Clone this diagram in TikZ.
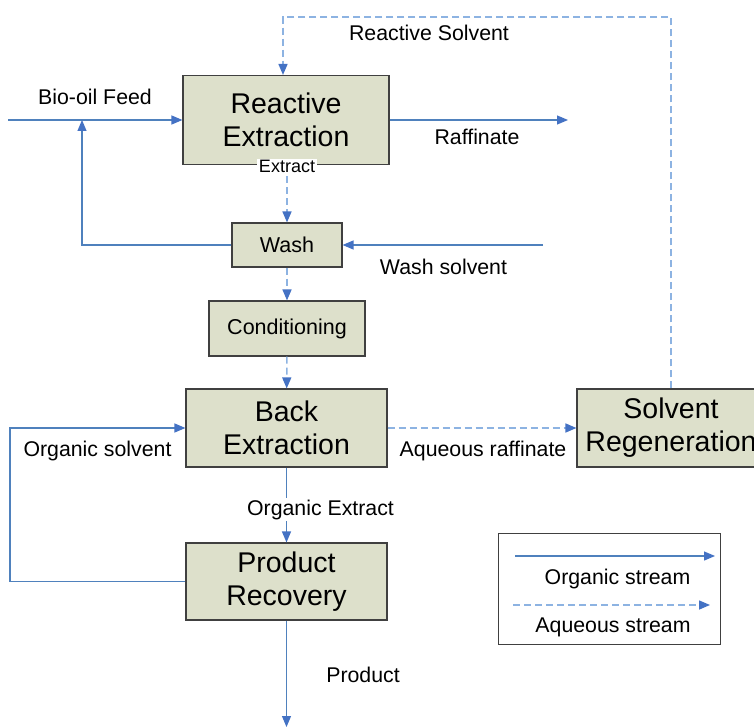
\documentclass[tikz,border=0pt]{standalone}
\usepackage{fontspec}
\setmainfont{Liberation Sans}
\usetikzlibrary{arrows.meta,positioning,calc}
\definecolor{flow}{RGB}{79,129,189}
\definecolor{tip}{RGB}{68,114,196}
\definecolor{aqua}{RGB}{141,179,226}
\definecolor{unitfill}{RGB}{221,224,203}

\begin{document}
\begin{tikzpicture}[
  x=1pt,y=-1pt,
  >={Triangle[length=11pt,width=9pt,color=tip]},
  unit/.style={draw=black!75, line width=1.1pt, fill=unitfill, inner sep=0pt, align=center, font=\fontsize{28.5}{33}\selectfont},
  smallunit/.style={unit, font=\fontsize{21.5}{26}\selectfont},
  lbl/.style={font=\fontsize{21.3}{25}\selectfont, anchor=base, inner sep=0pt},
  tag/.style={lbl, fill=white, inner sep=1.5pt},
  org/.style={->, draw=flow, line width=1.2pt},
  aq/.style={->, draw=aqua, line width=1.5pt, dash pattern=on 7pt off 4pt},
  legendbox/.style={draw=black!75, line width=0.9pt, minimum width=222, minimum height=111, inner sep=0pt}
]
\useasboundingbox (0,0) rectangle (754,727);

% Process units
\node[unit, minimum width=206, minimum height=89] (rext) at (286,120) {Reactive\\Extraction};
\node[smallunit, minimum width=110, minimum height=44] (wash) at (287,245) {Wash};
\node[smallunit, minimum width=156, minimum height=55] (cond) at (287,328.5) {Conditioning};
\node[unit, minimum width=201, minimum height=78] (bext) at (286.5,428) {Back\\Extraction};
\node[unit, minimum width=201, minimum height=77] (prec) at (286.5,581.5) {Product\\Recovery};
\node[unit, minimum width=188, minimum height=78] (sreg) at (671,428) {Solvent\\Regeneration};

% Free ends of streams
\coordinate (feedin) at (8,120);
\coordinate (mix) at (82,120);
\coordinate (raffout) at (568,120);
\coordinate (wsin) at (543,245);
\coordinate (rsturn) at (283,17);
\coordinate (osleft) at (10,581.5);
\coordinate (prodout) at (287,727);

% Streams
\draw[org] (feedin) -- (rext.west);
\draw[org] (wash.west) -| (mix);
\draw[org] (rext.east) -- (raffout);
\draw[aq] (wash.north |- rext.south) -- (wash.north);
\draw[org] (wsin) -- (wash.east);
\draw[aq] (wash) -- (cond);
\draw[aq] (cond) -- (bext);
\draw[aq] (bext) -- (sreg);
\draw[aq] (sreg.north) |- (rsturn) -- (rsturn |- rext.north);
\draw[org] (bext) -- (prec);
\draw[org] (prec.west) -- (osleft) |- (bext.west);
\draw[org] (prec.south) -- (prec.south |- prodout);

% Stream labels
\node[lbl] (feedlbl) at (95,105) {Bio-oil Feed};
\node[lbl] (rafflbl) at (477,145) {Raffinate};
\node[lbl] (rslbl) at (429,41) {Reactive Solvent};
\node[tag, font=\fontsize{18}{21}\selectfont] (extlbl) at (287,173) {Extract};
\node[lbl] (wslbl) at (443.5,274) {Wash solvent};
\node[lbl] (oslbl) at (97.5,456) {Organic solvent};
\node[lbl] (aqlbl) at (483,456) {Aqueous raffinate};
\node[tag] (oelbl) at (320.5,515) {Organic Extract};
\node[lbl] (prodlbl) at (363,682) {Product};

% Legend
\node[legendbox] (legend) at (609,588.5) {};
\coordinate (lgo1) at (515,556);
\coordinate (lgo2) at (715,556);
\coordinate (lga1) at (513,605);
\coordinate (lga2) at (710,605);
\draw[org] (lgo1) -- (lgo2);
\draw[aq] (lga1) -- (lga2);
\node[lbl] (orglbl) at (617.5,584) {Organic stream};
\node[lbl] (aqlgd) at (613,632) {Aqueous stream};

\end{tikzpicture}
\end{document}
